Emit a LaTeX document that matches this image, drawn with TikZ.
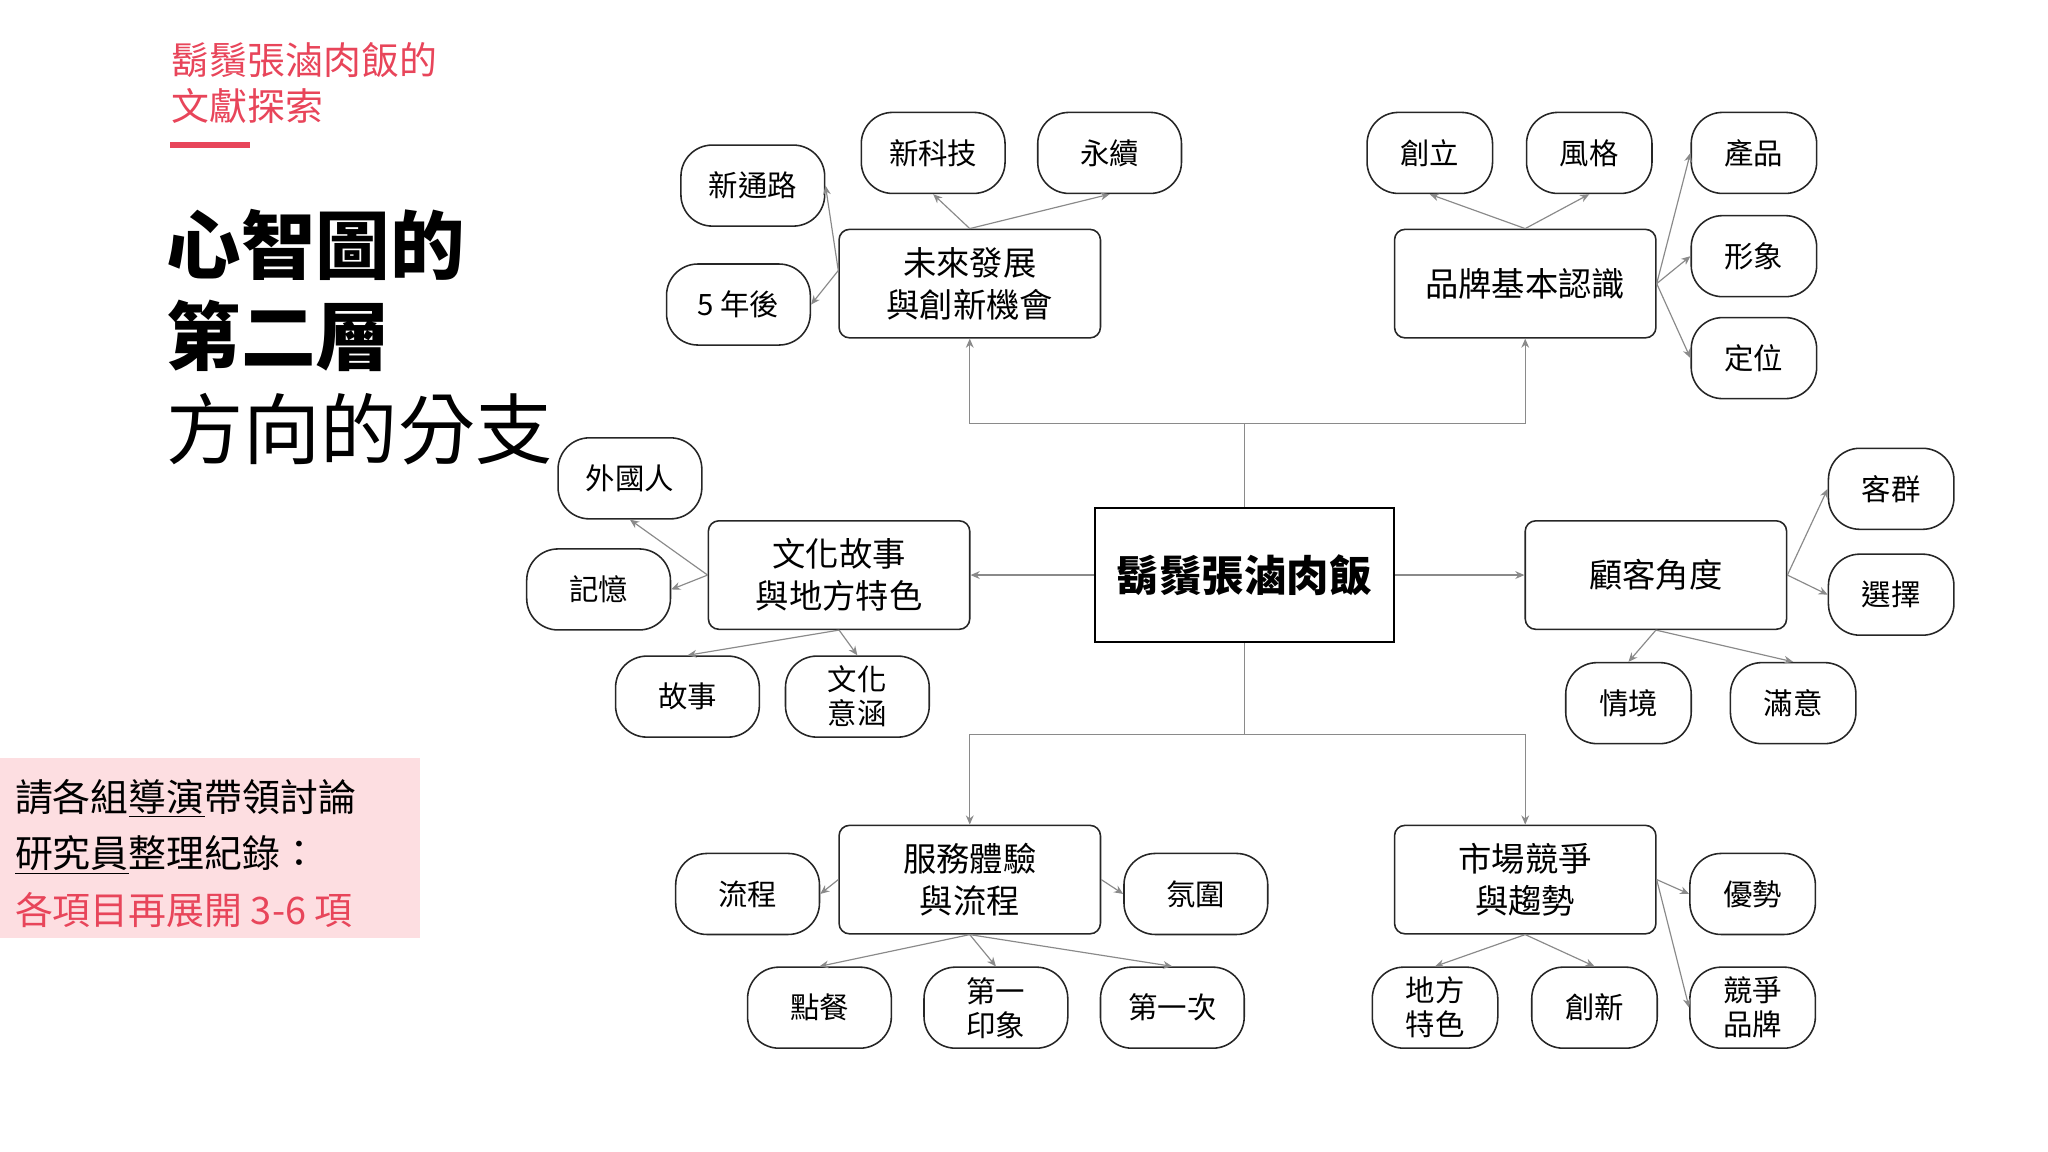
\documentclass[tikz,border=0pt]{standalone}
\usepackage{fontspec}
\setmainfont{Noto Sans CJK TC}
\usetikzlibrary{arrows.meta}
\definecolor{accent}{HTML}{E8455A}
\definecolor{pinkbg}{HTML}{FDDEE1}
\definecolor{conn}{HTML}{8A8A8A}
\begin{document}
\begin{tikzpicture}[x=1pt,y=-1pt,
  big/.style={draw=black!85,line width=1.2pt,rounded corners=8pt,minimum width=200pt,minimum height=83pt,align=center,font=\fontsize{25.5}{32}\selectfont,inner sep=0pt},
  sm/.style={draw=black!85,line width=1.2pt,rounded corners=24pt,minimum width=110pt,minimum height=62pt,align=center,font=\fontsize{22.5}{26}\selectfont,inner sep=0pt},
  smn/.style={sm,minimum width=96pt},
  ar/.style={conn,line width=0.9pt,-{Stealth[length=7pt,width=6pt]}},
  ln/.style={conn,line width=0.9pt}]
\useasboundingbox (0,0) rectangle (1567,881);
% left texts
\node[anchor=west,text=accent,font=\fontsize{29}{32}\selectfont] (t1) at (128,46) {鬍鬚張滷肉飯的};
\node[anchor=west,text=accent,font=\fontsize{29}{32}\selectfont] (t2) at (128,81) {文獻探索};
\fill[accent] (130,109) rectangle (191,113);
\node[anchor=west,font=\fontsize{57}{62}\selectfont\bfseries] (h1) at (124,187) {心智圖的};
\node[anchor=west,font=\fontsize{57}{62}\selectfont\bfseries] (h2) at (124,257) {第二層};
\node[anchor=west,font=\fontsize{59}{64}\selectfont] (h3) at (124,328) {方向的分支};
\fill[pinkbg] (0,580) rectangle (321,718);
\node[anchor=west,font=\fontsize{29}{32}\selectfont] (p1) at (8,611) {請各組\underline{導演}帶領討論};
\node[anchor=west,font=\fontsize{29}{32}\selectfont] (p2) at (8,654) {\underline{研究員}整理紀錄：};
\node[anchor=west,text=accent,font=\fontsize{29}{32}\selectfont] (p3) at (8,696) {各項目再展開 3-6 項};
% center
\node[draw=black,line width=1.5pt,minimum width=229pt,minimum height=103pt,font=\fontsize{32.5}{36}\selectfont\bfseries] (c) at (952,440) {鬍鬚張滷肉飯};
\node[big] (fut) at (742,217) {未來發展\\與創新機會};
\node[big] (brand) at (1167,217) {品牌基本認識};
\node[big] (cul) at (642,440) {文化故事\\與地方特色};
\node[big] (cus) at (1267,440) {顧客角度};
\node[big] (srv) at (742,673) {服務體驗\\與流程};
\node[big] (mkt) at (1167,673) {市場競爭\\與趨勢};
% small
\node[sm] (a1) at (576,142) {新通路};
\node[sm] (a2) at (714,117) {新科技};
\node[sm] (a3) at (849,117) {永續};
\node[sm] (a4) at (565,233) {5 年後};
\node[smn] (b1) at (1094,117) {創立};
\node[smn] (b2) at (1216,117) {風格};
\node[smn] (b3) at (1342,117) {產品};
\node[smn] (b4) at (1342,196) {形象};
\node[smn] (b5) at (1342,274) {定位};
\node[sm] (d1) at (482,366) {外國人};
\node[sm] (d2) at (458,451) {記憶};
\node[sm] (d3) at (526,533) {故事};
\node[sm] (d4) at (656,533) {文化\\意涵};
\node[smn] (e1) at (1447,374) {客群};
\node[smn] (e2) at (1447,455) {選擇};
\node[smn] (e3) at (1246,538) {情境};
\node[smn] (e4) at (1372,538) {滿意};
\node[sm] (f1) at (572,684) {流程};
\node[sm] (f2) at (915,684) {氛圍};
\node[sm] (f3) at (627,771) {點餐};
\node[sm] (f4) at (762,771) {第一\\印象};
\node[sm] (f5) at (897,771) {第一次};
\node[smn] (g1) at (1341,684) {優勢};
\node[smn] (g2) at (1098,771) {地方\\特色};
\node[smn] (g3) at (1220,771) {創新};
\node[smn] (g4) at (1341,771) {競爭\\品牌};
% main connectors
\coordinate (ct) at (952,324);
\coordinate (cb) at (952,562);
\draw[ln] (c.north) -- (ct);
\draw[ar] (ct) -| (fut.south);
\draw[ar] (ct) -| (brand.south);
\draw[ln] (c.south) -- (cb);
\draw[ar] (cb) -| (srv.north);
\draw[ar] (cb) -| (mkt.north);
\draw[ar] (c.west) -- (cul.east);
\draw[ar] (c.east) -- (cus.west);
% sub connectors
\draw[ar] (fut.north) -- (a2.south);
\draw[ar] (fut.north) -- (a3.south);
\draw[ar] (fut.west) ++(0,-10) -- (a1.east);
\draw[ar] (fut.west) ++(0,-10) -- (a4.east);
\draw[ar] (brand.north) -- (b1.south);
\draw[ar] (brand.north) -- (b2.south);
\draw[ar] (brand.east) -- (b3.west);
\draw[ar] (brand.east) -- (b4.west);
\draw[ar] (brand.east) -- (b5.west);
\draw[ar] (cul.west) -- (d1.south);
\draw[ar] (cul.west) -- (d2.east);
\draw[ar] (cul.south) -- (d3.north);
\draw[ar] (cul.south) -- (d4.north);
\draw[ar] (cus.east) -- (e1.west);
\draw[ar] (cus.east) -- (e2.west);
\draw[ar] (cus.south) -- (e3.north);
\draw[ar] (cus.south) -- (e4.north);
\draw[ar] (srv.west) -- (f1.east);
\draw[ar] (srv.east) -- (f2.west);
\draw[ar] (srv.south) -- (f3.north);
\draw[ar] (srv.south) -- (f4.north);
\draw[ar] (srv.south) -- (f5.north);
\draw[ar] (mkt.east) -- (g1.west);
\draw[ar] (mkt.east) -- (g4.west);
\draw[ar] (mkt.south) -- (g2.north);
\draw[ar] (mkt.south) -- (g3.north);
\end{tikzpicture}
\end{document}
